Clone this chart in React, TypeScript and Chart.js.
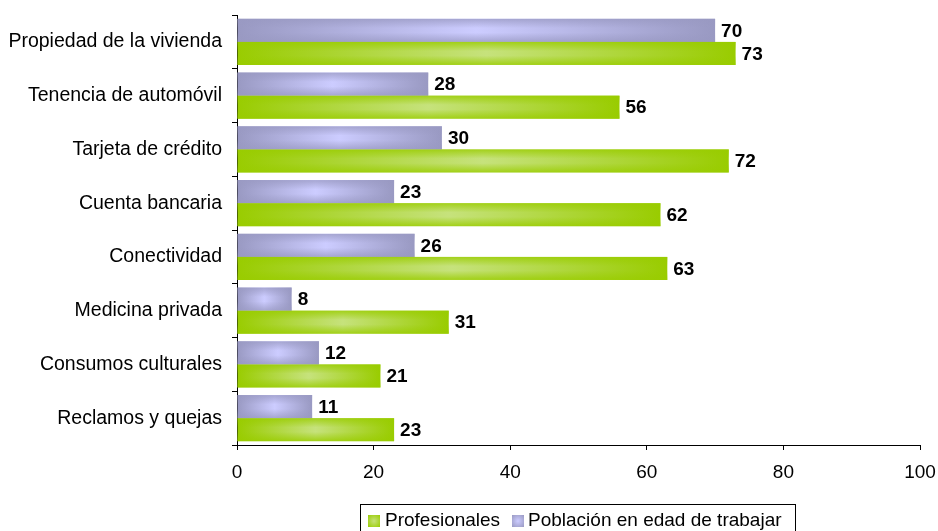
import React, { useEffect, useRef } from "react";
import { Chart, registerables } from "chart.js";

Chart.register(...registerables);

const categories = [
  "Propiedad de la vivienda",
  "Tenencia de automóvil",
  "Tarjeta de crédito",
  "Cuenta bancaria",
  "Conectividad",
  "Medicina privada",
  "Consumos culturales",
  "Reclamos y quejas",
];
const poblacion = [70, 28, 30, 23, 26, 8, 12, 11];
const profesionales = [73, 56, 72, 62, 63, 31, 21, 23];
const seriesNames = ["Profesionales", "Población en edad de trabajar"];
const xMin = 0;
const xMax = 100;
const xStep = 20;

const FONT = "'Liberation Sans', Arial, sans-serif";

const LAV_EDGE = "#9999c2";
const LAV_MID = "#ccccff";
const GRN_EDGE = "#99cc00";
const GRN_MID = "#c6e27c";

function hGrad(edge: string, mid: string) {
  return (ctx: any) => {
    const chart = ctx.chart;
    const sx = chart.scales && chart.scales.x;
    if (!chart.chartArea || !sx || ctx.raw == null) return edge;
    const x0 = sx.getPixelForValue(0);
    const x1 = sx.getPixelForValue(ctx.raw);
    if (!isFinite(x0) || !isFinite(x1) || x1 - x0 < 1) return edge;
    const g = chart.ctx.createLinearGradient(x0, 0, x1, 0);
    g.addColorStop(0, edge);
    g.addColorStop(0.5, mid);
    g.addColorStop(1, edge);
    return g;
  };
}

const overlayPlugin = {
  id: "overlayAndLabels",
  afterDatasetsDraw(chart: any) {
    const ctx = chart.ctx;
    const edges = [
      ["rgba(153,153,194,0.75)", "rgba(153,153,194,0)"],
      ["rgba(153,204,0,0.8)", "rgba(153,204,0,0)"],
    ];
    chart.data.datasets.forEach((ds: any, di: number) => {
      const meta = chart.getDatasetMeta(di);
      meta.data.forEach((el: any) => {
        const p = el.getProps(["x", "y", "base", "height"], true);
        const left = Math.min(p.base, p.x);
        const w = Math.abs(p.x - p.base);
        const top = p.y - p.height / 2;
        const g = ctx.createLinearGradient(0, top, 0, top + p.height);
        g.addColorStop(0, edges[di][0]);
        g.addColorStop(0.4, edges[di][1]);
        g.addColorStop(0.6, edges[di][1]);
        g.addColorStop(1, edges[di][0]);
        ctx.save();
        ctx.fillStyle = g;
        ctx.fillRect(left, top, w, p.height);
        ctx.restore();
      });
    });
    ctx.save();
    ctx.font = `bold 19px ${FONT}`;
    ctx.fillStyle = "#000";
    ctx.textAlign = "left";
    ctx.textBaseline = "middle";
    chart.data.datasets.forEach((ds: any, di: number) => {
      const meta = chart.getDatasetMeta(di);
      meta.data.forEach((el: any, i: number) => {
        const p = el.getProps(["x", "y"], true);
        ctx.fillText(String(ds.data[i]), p.x + 6, p.y + 1);
      });
    });
    ctx.restore();
  },
};

export default function App() {
  const ref = useRef<HTMLCanvasElement | null>(null);
  useEffect(() => {
    if (!ref.current) return;
    const chart = new Chart(ref.current, {
      type: "bar",
      data: {
        labels: categories,
        datasets: [
          {
            label: seriesNames[1],
            data: poblacion,
            backgroundColor: hGrad(LAV_EDGE, LAV_MID),
            borderWidth: 0,
            categoryPercentage: 0.856,
            barPercentage: 1,
          },
          {
            label: seriesNames[0],
            data: profesionales,
            backgroundColor: hGrad(GRN_EDGE, GRN_MID),
            borderWidth: 0,
            categoryPercentage: 0.856,
            barPercentage: 1,
          },
        ],
      },
      options: {
        indexAxis: "y",
        responsive: false,
        animation: false,
        layout: { padding: { top: 15, right: 18, left: 0, bottom: 0 } },
        plugins: {
          legend: { display: false },
          tooltip: { enabled: false },
        },
        scales: {
          x: {
            min: xMin,
            max: xMax,
            ticks: {
              stepSize: xStep,
              color: "#000",
              font: { family: FONT, size: 19 },
              padding: 11,
            },
            grid: {
              display: true,
              drawOnChartArea: false,
              drawTicks: true,
              tickLength: 5,
              color: "#000",
            },
            border: { display: true, color: "#000", width: 1 },
            afterFit: (s: any) => {
              s.height = 86;
              s.paddingLeft = 0;
              s.paddingRight = 0;
            },
          },
          y: {
            offset: true,
            ticks: {
              color: "#000",
              font: { family: FONT, size: 19.5 },
              padding: 10,
            },
            grid: {
              display: true,
              offset: true,
              drawOnChartArea: false,
              drawTicks: true,
              tickLength: 5,
              color: "#000",
            },
            border: { display: true, color: "#000", width: 1 },
            afterFit: (s: any) => {
              s.width = 237;
              s.paddingTop = 0;
              s.paddingBottom = 0;
            },
          },
        },
      },
      plugins: [overlayPlugin],
    });
    return () => chart.destroy();
  }, []);

  const legendText: React.CSSProperties = {
    position: "absolute",
    font: `19px ${FONT}`,
    color: "#000",
    top: 509,
    lineHeight: "22px",
    whiteSpace: "nowrap",
  };
  const sq = (bg: string, left: number): React.CSSProperties => ({
    position: "absolute",
    left,
    top: 515,
    width: 12,
    height: 12,
    background: bg,
  });

  return (
    <div
      style={{
        position: "fixed",
        left: 0,
        top: 0,
        width: 938,
        height: 531,
        overflow: "hidden",
        background: "#fff",
      }}
    >
      <canvas ref={ref} width={938} height={531} style={{ display: "block" }} />
      <div
        style={{
          position: "absolute",
          left: 360,
          top: 504,
          width: 436,
          height: 40,
          border: "1px solid #000",
          boxSizing: "border-box",
        }}
      />
      <div style={sq(`radial-gradient(circle, ${GRN_MID}, ${GRN_EDGE})`, 368)} />
      <div style={{ ...legendText, left: 385 }}>{seriesNames[0]}</div>
      <div style={sq(`radial-gradient(circle, ${LAV_MID}, ${LAV_EDGE})`, 512)} />
      <div style={{ ...legendText, left: 528 }}>{seriesNames[1]}</div>
    </div>
  );
}
